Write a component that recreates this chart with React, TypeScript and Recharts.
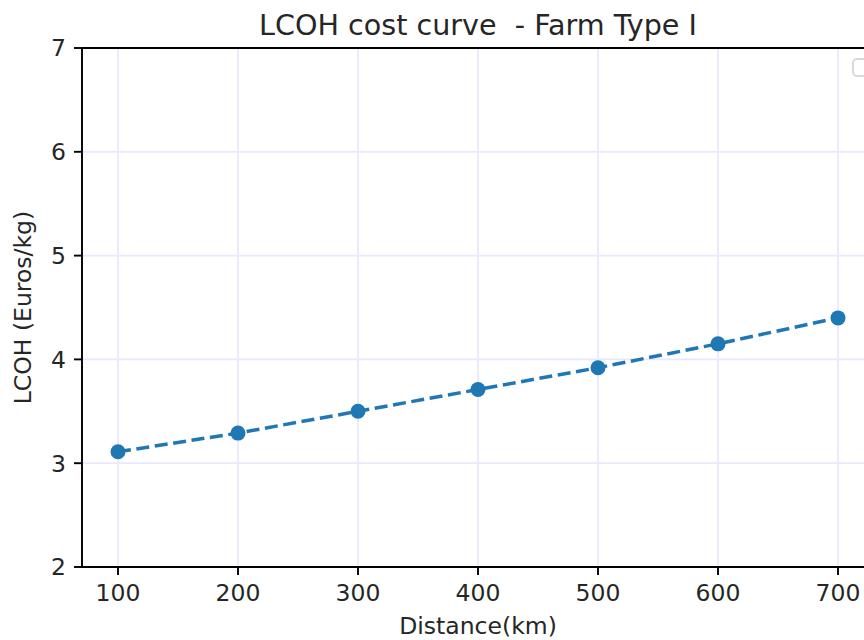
import React from "react";
import {
  LineChart,
  Line,
  XAxis,
  YAxis,
  CartesianGrid,
  ReferenceLine,
} from "recharts";

const distances = [100, 200, 300, 400, 500, 600, 700];
const lcohValues = [3.11, 3.29, 3.5, 3.71, 3.92, 4.15, 4.4];
const xTicks = [100, 200, 300, 400, 500, 600, 700];
const yTicks = [2, 3, 4, 5, 6, 7];

const data = distances.map((d, i) => ({ distance: d, lcoh: lcohValues[i] }));

const FONT = "'DejaVu Sans', sans-serif";
const TEXT = "#262626";

const YLabel = (props: any) => {
  const vb = props.viewBox;
  const cy = vb.y + vb.height / 2;
  return (
    <text
      x={23}
      y={cy}
      transform={`rotate(-90, 23, ${cy})`}
      textAnchor="middle"
      dominantBaseline="central"
      fontFamily={FONT}
      fontSize={23.5}
      fill={TEXT}
    >
      LCOH (Euros/kg)
    </text>
  );
};

export default function App() {
  return (
    <div
      style={{
        position: "absolute",
        left: 0,
        top: 0,
        width: 864,
        height: 640,
        overflow: "hidden",
        background: "#fff",
      }}
    >
      <div
        style={{
          position: "absolute",
          left: 0,
          top: 11,
          width: 956,
          textAlign: "center",
          fontFamily: FONT,
          fontSize: 28.6,
          lineHeight: "28px",
          color: TEXT,
        }}
      >
        LCOH cost curve&nbsp; - Farm Type I
      </div>

      <LineChart
        width={920}
        height={640}
        data={data}
        margin={{ top: 48, right: 46, bottom: 0, left: 0 }}
      >
        <CartesianGrid stroke="#e8e8ff" strokeWidth={1.7} />

        <XAxis
          dataKey="distance"
          type="number"
          domain={[70, 730]}
          ticks={xTicks}
          allowDataOverflow
          height={73}
          stroke="#000"
          strokeWidth={1.9}
          tickSize={8}
          tickMargin={9}
          tick={{ fontFamily: FONT, fontSize: 23.5, fill: TEXT }}
          tickLine={{ stroke: "#000", strokeWidth: 1.9 }}
          label={{
            value: "Distance(km)",
            position: "insideBottom",
            offset: 6,
            style: { fontFamily: FONT, fontSize: 23.5, fill: TEXT },
          }}
        />

        <YAxis
          type="number"
          domain={[2, 7]}
          ticks={yTicks}
          allowDataOverflow
          width={82}
          stroke="#000"
          strokeWidth={1.9}
          tickSize={8}
          tickMargin={8}
          tick={{ fontFamily: FONT, fontSize: 23.5, fill: TEXT }}
          tickLine={{ stroke: "#000", strokeWidth: 1.9 }}
          label={<YLabel />}
        />

        <ReferenceLine y={7} stroke="#000" strokeWidth={1.9} />
        <ReferenceLine x={730} stroke="#000" strokeWidth={1.9} />

        <Line
          type="linear"
          dataKey="lcoh"
          stroke="#1f77b4"
          strokeWidth={3.5}
          strokeDasharray="13 5.6"
          dot={{ r: 7.5, fill: "#1f77b4", stroke: "#1f77b4", strokeWidth: 0 }}
          isAnimationActive={false}
        />
      </LineChart>

      <div
        style={{
          position: "absolute",
          left: 852,
          top: 58,
          width: 30,
          height: 15,
          border: "2px solid #d9d9d9",
          borderRadius: 5,
          background: "#fff",
        }}
      />
    </div>
  );
}
